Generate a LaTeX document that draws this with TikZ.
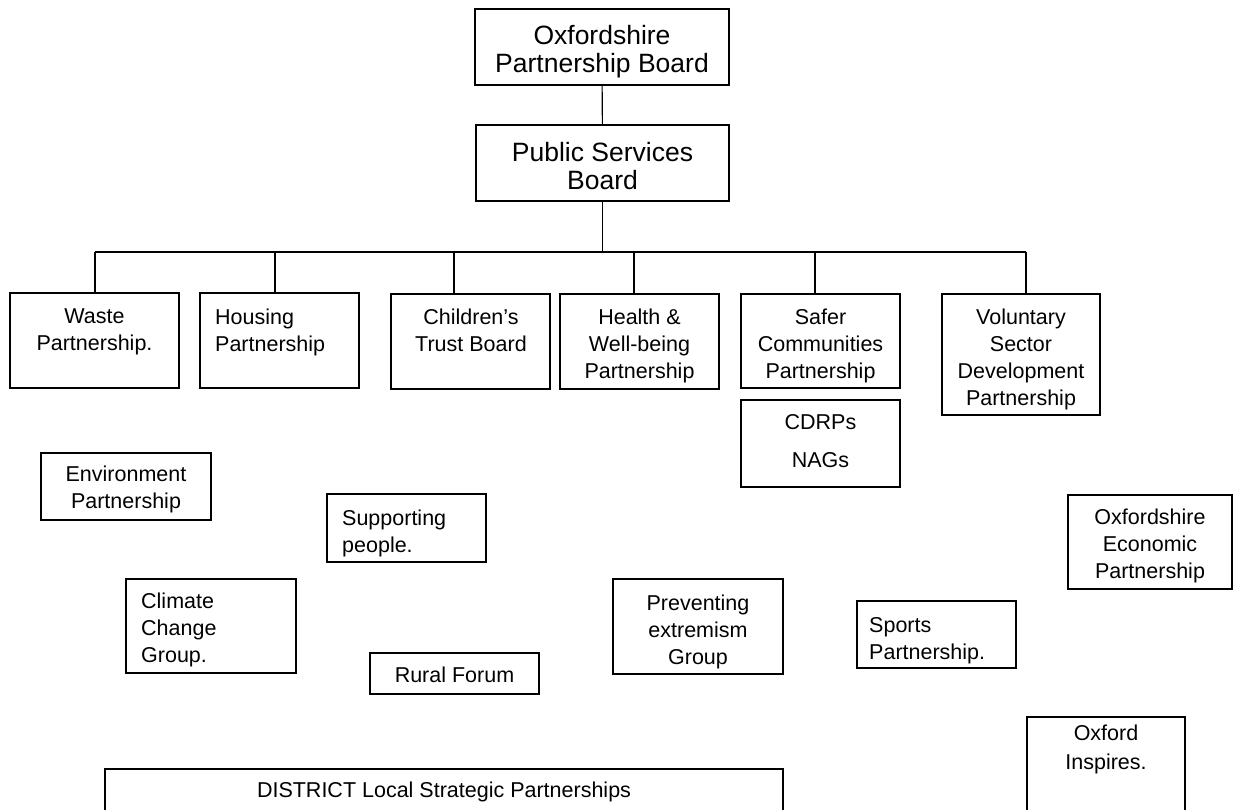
\documentclass[tikz,border=0pt]{standalone}
\usepackage{fontspec}
\setmainfont{Liberation Sans}
\begin{document}
\begin{tikzpicture}[x=1pt,y=-1pt,
  box/.style={draw=black, line width=1.1pt, rectangle, inner sep=0pt},
  txt/.style={inner sep=0pt, align=center, anchor=north, font=\fontsize{21.5}{27}\selectfont},
  txtl/.style={txt, align=left, anchor=north west},
  big/.style={font=\fontsize{26.5}{28}\selectfont},
  link/.style={line width=1.1pt, draw=black}]
\clip (0,0) rectangle (1235,810);
\fill[white] (0,0) rectangle (1235,810);

% boxes
\node[box, minimum width=254, minimum height=76] (opb) at (602,47) {};
\node[box, minimum width=253, minimum height=76] (psb) at (602.5,163) {};
\node[box, minimum width=169, minimum height=95] (waste) at (94.5,340.5) {};
\node[box, minimum width=159, minimum height=95] (housing) at (279.5,340.5) {};
\node[box, minimum width=159, minimum height=95] (kids) at (470.5,341.5) {};
\node[box, minimum width=159, minimum height=95] (health) at (639.5,341.5) {};
\node[box, minimum width=159, minimum height=94] (safer) at (820.5,341) {};
\node[box, minimum width=159, minimum height=87] (cdrp) at (820.5,443.5) {};
\node[box, minimum width=158, minimum height=121] (vol) at (1021,354.5) {};
\node[box, minimum width=170, minimum height=67] (env) at (126,486.5) {};
\node[box, minimum width=159, minimum height=68] (supp) at (406.5,528) {};
\node[box, minimum width=164, minimum height=94] (oep) at (1150,542) {};
\node[box, minimum width=170, minimum height=94] (clim) at (211,626) {};
\node[box, minimum width=170, minimum height=95] (prev) at (698,626.5) {};
\node[box, minimum width=159, minimum height=67] (sports) at (936.5,634.5) {};
\node[box, minimum width=169, minimum height=41] (rural) at (454.5,673.5) {};
\node[box, minimum width=158, minimum height=113] (oxi) at (1106,773.5) {};
\node[box, minimum width=678, minimum height=61] (dist) at (444,799.5) {};

% texts
\node[txt,big] (opbT) at (602,25.5) {Oxfordshire\\Partnership Board};
\node[txt,big] (psbT) at (602.5,142.5) {Public Services\\Board};
\node[txt] (wasteT) at (94.5,309) {Waste\\Partnership.};
\node[txtl] (housingT) at (215,309) {Housing\\Partnership};
\node[txt] (kidsT) at (471,309) {Children’s\\Trust Board};
\node[txt] (healthT) at (639.5,309) {Health \&\\Well-being\\Partnership};
\node[txt] (saferT) at (820.5,309) {Safer\\Communities\\Partnership};
\node[txt, font=\fontsize{21.5}{38}\selectfont] (cdrpT) at (820.5,414) {CDRPs\\NAGs};
\node[txt] (volT) at (1021,309) {Voluntary\\Sector\\Development\\Partnership};
\node[txt] (envT) at (126,466) {Environment\\Partnership};
\node[txtl] (suppT) at (342,510) {Supporting\\people.};
\node[txt] (oepT) at (1150,509) {Oxfordshire\\Economic\\Partnership};
\node[txtl] (climT) at (141,593) {Climate\\Change\\Group.};
\node[txt] (prevT) at (698,595) {Preventing\\extremism\\Group};
\node[txtl] (sportsT) at (869,617) {Sports\\Partnership.};
\node[txt] (ruralT) at (454.5,667) {Rural Forum};
\node[txt, font=\fontsize{21.5}{29}\selectfont] (oxiT) at (1106,725) {Oxford\\Inspires.};
\node[txt] (distT) at (444,782) {DISTRICT Local Strategic Partnerships};

% connectors
\coordinate (bar) at (603,252);
\draw[link] (opb) -- (psb);
\draw[link] (psb.south) -- (psb.south |- bar);
\draw[link] ([xshift=0.5pt]waste.north |- bar) -- ([xshift=5pt]vol.north |- bar);
\draw[link] ([xshift=0.5pt]waste.north) -- ([xshift=0.5pt]waste.north |- bar);
\draw[link] ([xshift=-4.5pt]housing.north) -- ([xshift=-4.5pt]housing.north |- bar);
\draw[link] ([xshift=-16.5pt]kids.north) -- ([xshift=-16.5pt]kids.north |- bar);
\draw[link] ([xshift=-5.5pt]health.north) -- ([xshift=-5.5pt]health.north |- bar);
\draw[link] ([xshift=-5.5pt]safer.north) -- ([xshift=-5.5pt]safer.north |- bar);
\draw[link] ([xshift=5pt]vol.north) -- ([xshift=5pt]vol.north |- bar);
\end{tikzpicture}
\end{document}
